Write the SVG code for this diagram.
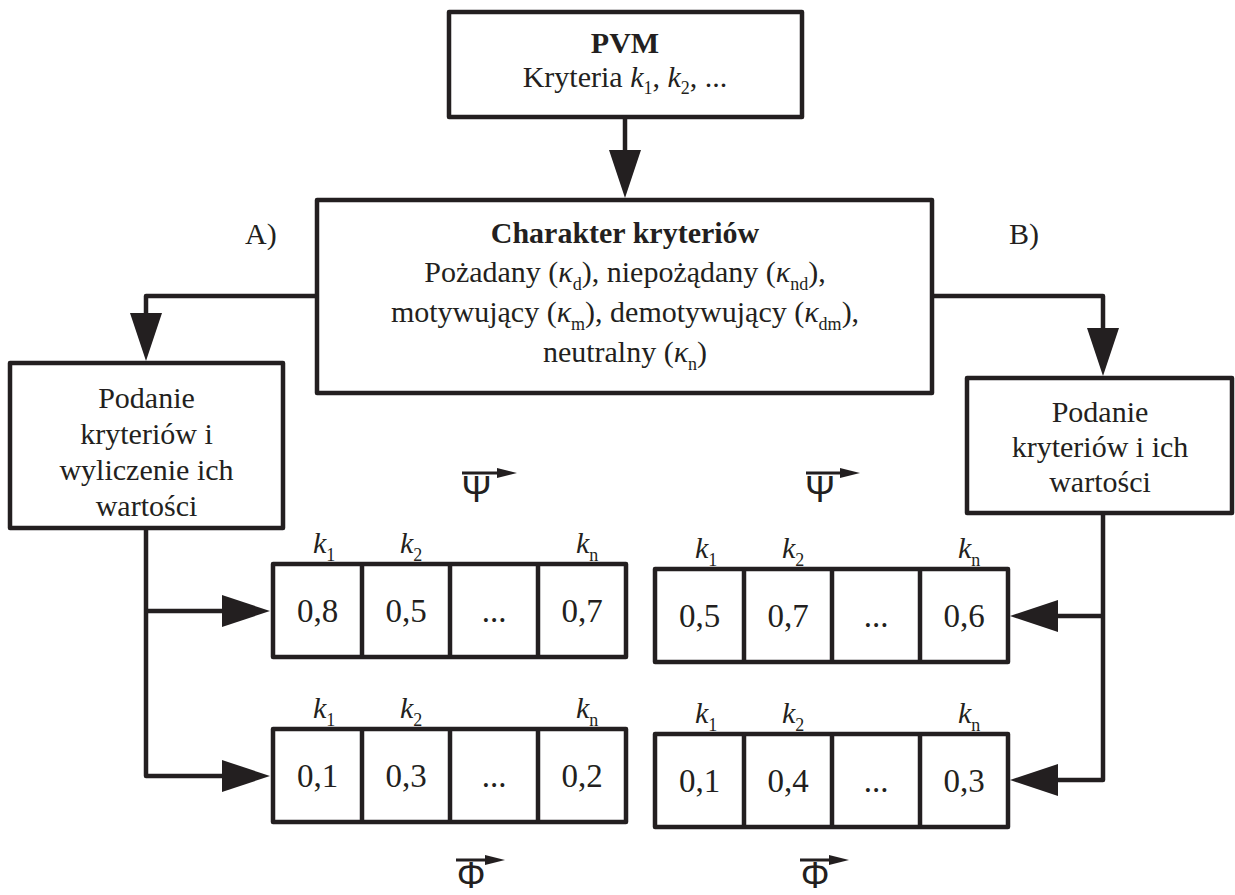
<svg xmlns="http://www.w3.org/2000/svg" width="1235" height="895" viewBox="0 0 1235 895">
<style>
.box{fill:#fff;stroke:#231f20;stroke-width:4.5;stroke-linejoin:round}
.div{stroke:#231f20;stroke-width:4.5}
.conn{fill:none;stroke:#231f20;stroke-width:4.5;stroke-linejoin:round}
.t{font-size:30px;fill:#231f20;text-anchor:middle}
.tl{font-size:30px;fill:#231f20}
.v{font-size:33px;fill:#231f20;text-anchor:middle}
.b{font-weight:bold}
.i{font-style:italic}
.sub{font-size:18px;font-style:normal}
.sym{font-size:36px;fill:#231f20;text-anchor:middle}
.vbar{stroke:#231f20;stroke-width:3}
.vhead{fill:#231f20}
</style>
<defs>
<marker id="ah" markerUnits="userSpaceOnUse" markerWidth="48" markerHeight="32" refX="28" refY="16" orient="auto" viewBox="0 0 48 32">
<path d="M0,0 L48,16 L0,32 Z" fill="#231f20"/>
</marker>
</defs>

<g id="connectors">
<path class="conn" d="M625,117 V178" marker-end="url(#ah)"/>
<path class="conn" d="M317,296 H146 V341" marker-end="url(#ah)"/>
<path class="conn" d="M932,296 H1103 V356" marker-end="url(#ah)"/>
<path class="conn" d="M146,528 V776 H250" marker-end="url(#ah)"/>
<path class="conn" d="M146,611 H250" marker-end="url(#ah)"/>
<path class="conn" d="M1103,513 V780 H1030" marker-end="url(#ah)"/>
<path class="conn" d="M1103,616 H1030" marker-end="url(#ah)"/>
</g>

<g font-family="Liberation Serif, Times New Roman, Tinos, serif">

<g id="pvm">
<rect class="box" x="449" y="12" width="353" height="105"/>
<text class="t b" x="625" y="53">PVM</text>
<text class="t" x="625" y="87">Kryteria <tspan class="i">k</tspan><tspan class="sub" dy="7">1</tspan><tspan dy="-7">, </tspan><tspan class="i">k</tspan><tspan class="sub" dy="7">2</tspan><tspan dy="-7">, ...</tspan></text>
</g>

<g id="charakter">
<rect class="box" x="317" y="200" width="615" height="193"/>
<text class="t b" x="625" y="243">Charakter kryteriów</text>
<text class="t" x="625" y="282">Pożadany (<tspan class="i">κ</tspan><tspan class="sub" dy="8">d</tspan><tspan dy="-8">), niepożądany (</tspan><tspan class="i">κ</tspan><tspan class="sub" dy="8">nd</tspan><tspan dy="-8">),</tspan></text>
<text class="t" x="625" y="322">motywujący (<tspan class="i">κ</tspan><tspan class="sub" dy="8">m</tspan><tspan dy="-8">), demotywujący (</tspan><tspan class="i">κ</tspan><tspan class="sub" dy="8">dm</tspan><tspan dy="-8">),</tspan></text>
<text class="t" x="625" y="362">neutralny (<tspan class="i">κ</tspan><tspan class="sub" dy="8">n</tspan><tspan dy="-8">)</tspan></text>
</g>

<g id="labelA"><text class="tl" x="245" y="244">A)</text></g>
<g id="labelB"><text class="tl" x="1009" y="244">B)</text></g>

<g id="leftbox">
<rect class="box" x="10" y="363" width="273" height="165"/>
<text class="t" x="146.5" y="408">Podanie</text>
<text class="t" x="146.5" y="444">kryteriów i</text>
<text class="t" x="146.5" y="480">wyliczenie ich</text>
<text class="t" x="146.5" y="516">wartości</text>
</g>

<g id="rightbox">
<rect class="box" x="967" y="378" width="265" height="135"/>
<text class="t" x="1100" y="422">Podanie</text>
<text class="t" x="1100" y="457">kryteriów i ich</text>
<text class="t" x="1100" y="492">wartości</text>
</g>

<g id="rowA1">
<rect class="box" x="273" y="564" width="353" height="93"/>
<line class="div" x1="362" y1="564" x2="362" y2="657"/>
<line class="div" x1="450" y1="564" x2="450" y2="657"/>
<line class="div" x1="538" y1="564" x2="538" y2="657"/>
<text class="v" x="317.5" y="622">0,8</text>
<text class="v" x="406" y="622">0,5</text>
<text class="v" x="494" y="622">...</text>
<text class="v" x="582" y="622">0,7</text>
<text class="tl" x="313" y="553"><tspan class="i">k</tspan><tspan class="sub" dy="8">1</tspan></text>
<text class="tl" x="400" y="553"><tspan class="i">k</tspan><tspan class="sub" dy="8">2</tspan></text>
<text class="tl" x="576" y="553"><tspan class="i">k</tspan><tspan class="sub" dy="8">n</tspan></text>
</g>

<g id="rowA2">
<rect class="box" x="273" y="729" width="353" height="93"/>
<line class="div" x1="362" y1="729" x2="362" y2="822"/>
<line class="div" x1="450" y1="729" x2="450" y2="822"/>
<line class="div" x1="538" y1="729" x2="538" y2="822"/>
<text class="v" x="317.5" y="787">0,1</text>
<text class="v" x="406" y="787">0,3</text>
<text class="v" x="494" y="787">...</text>
<text class="v" x="582" y="787">0,2</text>
<text class="tl" x="313" y="718"><tspan class="i">k</tspan><tspan class="sub" dy="8">1</tspan></text>
<text class="tl" x="400" y="718"><tspan class="i">k</tspan><tspan class="sub" dy="8">2</tspan></text>
<text class="tl" x="576" y="718"><tspan class="i">k</tspan><tspan class="sub" dy="8">n</tspan></text>
</g>

<g id="rowB1">
<rect class="box" x="655" y="569" width="353" height="93"/>
<line class="div" x1="744" y1="569" x2="744" y2="662"/>
<line class="div" x1="832" y1="569" x2="832" y2="662"/>
<line class="div" x1="920" y1="569" x2="920" y2="662"/>
<text class="v" x="699.5" y="627">0,5</text>
<text class="v" x="788" y="627">0,7</text>
<text class="v" x="876" y="627">...</text>
<text class="v" x="964" y="627">0,6</text>
<text class="tl" x="695" y="558"><tspan class="i">k</tspan><tspan class="sub" dy="8">1</tspan></text>
<text class="tl" x="782" y="558"><tspan class="i">k</tspan><tspan class="sub" dy="8">2</tspan></text>
<text class="tl" x="958" y="558"><tspan class="i">k</tspan><tspan class="sub" dy="8">n</tspan></text>
</g>

<g id="rowB2">
<rect class="box" x="655" y="734" width="353" height="93"/>
<line class="div" x1="744" y1="734" x2="744" y2="827"/>
<line class="div" x1="832" y1="734" x2="832" y2="827"/>
<line class="div" x1="920" y1="734" x2="920" y2="827"/>
<text class="v" x="699.5" y="792">0,1</text>
<text class="v" x="788" y="792">0,4</text>
<text class="v" x="876" y="792">...</text>
<text class="v" x="964" y="792">0,3</text>
<text class="tl" x="695" y="723"><tspan class="i">k</tspan><tspan class="sub" dy="8">1</tspan></text>
<text class="tl" x="782" y="723"><tspan class="i">k</tspan><tspan class="sub" dy="8">2</tspan></text>
<text class="tl" x="958" y="723"><tspan class="i">k</tspan><tspan class="sub" dy="8">n</tspan></text>
</g>
</g>

<g font-family="Liberation Sans, Arial, sans-serif">
<g id="psiA">
<line class="vbar" x1="462" y1="473" x2="502" y2="473"/>
<polygon class="vhead" points="497,468 517,473 497,478"/>
<text class="sym" x="476.5" y="502">Ψ</text>
</g>
<g id="psiB">
<line class="vbar" x1="806" y1="473" x2="845" y2="473"/>
<polygon class="vhead" points="840,468 860,473 840,478"/>
<text class="sym" x="820" y="502">Ψ</text>
</g>
<g id="phiA">
<line class="vbar" x1="456" y1="860" x2="490" y2="860"/>
<polygon class="vhead" points="485,855 505,860 485,865"/>
<text class="sym" x="471" y="888">Φ</text>
</g>
<g id="phiB">
<line class="vbar" x1="800" y1="860" x2="834" y2="860"/>
<polygon class="vhead" points="829,855 849,860 829,865"/>
<text class="sym" x="815" y="888">Φ</text>
</g>
</g>
</svg>
